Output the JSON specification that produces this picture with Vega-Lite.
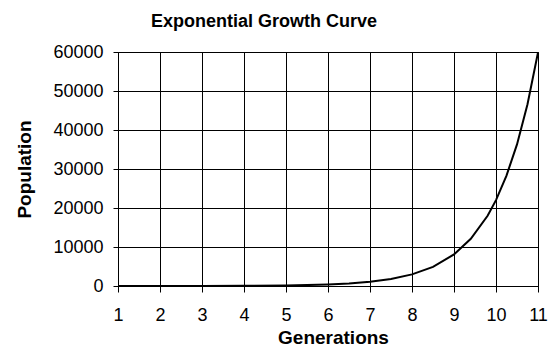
{
  "$schema": "https://vega.github.io/schema/vega-lite/v6.json",
  "autosize": "none",
  "width": 420,
  "height": 234,
  "padding": {"left": 118, "top": 52, "right": 22, "bottom": 66},
  "background": "white",
  "title": {
    "text": "Exponential Growth Curve",
    "font": "Liberation Sans",
    "fontSize": 18,
    "fontWeight": "bold",
    "color": "black",
    "anchor": "middle",
    "dx": -64,
    "offset": 12
  },
  "data": {
    "values": [
      {"g": 1, "p": 3},
      {"g": 2, "p": 7},
      {"g": 3, "p": 20},
      {"g": 4, "p": 55},
      {"g": 5, "p": 148},
      {"g": 5.5, "p": 245},
      {"g": 6, "p": 403},
      {"g": 6.5, "p": 665},
      {"g": 7, "p": 1097},
      {"g": 7.5, "p": 1808},
      {"g": 8, "p": 2981},
      {"g": 8.5, "p": 4915},
      {"g": 9, "p": 8103},
      {"g": 9.4, "p": 12100},
      {"g": 9.8, "p": 18000},
      {"g": 10, "p": 22026},
      {"g": 10.25, "p": 28300},
      {"g": 10.5, "p": 36300},
      {"g": 10.75, "p": 46600},
      {"g": 11, "p": 59874}
    ]
  },
  "mark": {"type": "line", "color": "black", "strokeWidth": 2, "clip": true},
  "encoding": {
    "x": {
      "field": "g",
      "type": "quantitative",
      "title": "Generations",
      "scale": {"domain": [1, 11], "nice": false, "zero": false},
      "axis": {
        "values": [1, 2, 3, 4, 5, 6, 7, 8, 9, 10, 11],
        "format": "d",
        "grid": true,
        "gridColor": "black",
        "gridOpacity": 1,
        "domainColor": "black",
        "tickColor": "black",
        "tickSize": 6,
        "labelFont": "Liberation Sans",
        "labelFontSize": 18,
        "labelColor": "black",
        "labelPadding": 14,
        "labelFlush": false,
        "titleFont": "Liberation Sans",
        "titleFontSize": 19,
        "titleFontWeight": "bold",
        "titleColor": "black",
        "titlePadding": 4,
        "titleX": 215
      }
    },
    "y": {
      "field": "p",
      "type": "quantitative",
      "title": "Population",
      "scale": {"domain": [0, 60000], "nice": false},
      "axis": {
        "values": [0, 10000, 20000, 30000, 40000, 50000, 60000],
        "format": "d",
        "grid": true,
        "gridColor": "black",
        "gridOpacity": 1,
        "domainColor": "black",
        "tickColor": "black",
        "tickSize": 5,
        "labelFont": "Liberation Sans",
        "labelFontSize": 18,
        "labelColor": "black",
        "labelPadding": 10,
        "labelFlush": false,
        "titleFont": "Liberation Sans",
        "titleFontSize": 19,
        "titleFontWeight": "bold",
        "titleColor": "black",
        "titlePadding": 18
      }
    }
  },
  "config": {
    "view": {"stroke": "black", "strokeWidth": 1}
  }
}
